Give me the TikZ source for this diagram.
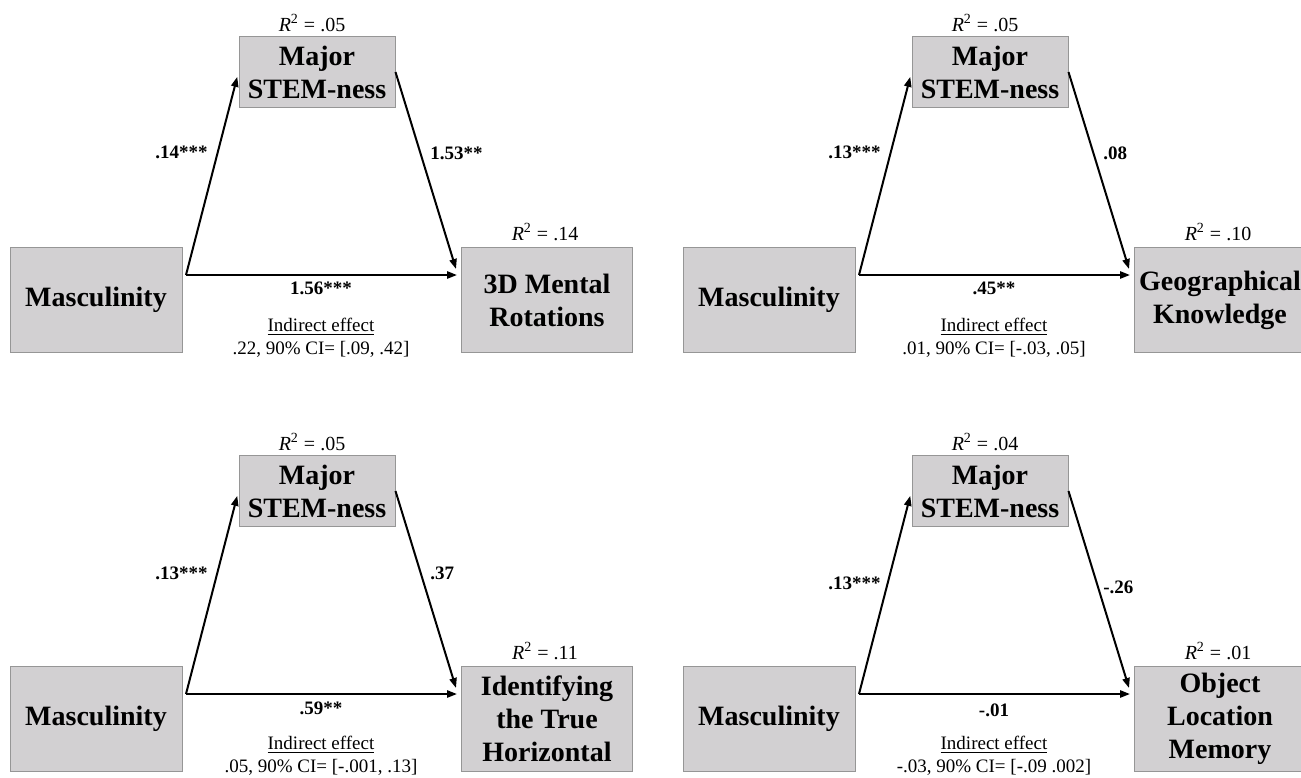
\documentclass[tikz,border=0pt]{standalone}
\usepackage{fontspec}
\setmainfont{Liberation Serif}
\usepackage{tikz}
\usetikzlibrary{arrows.meta,positioning}
\definecolor{boxgray}{RGB}{210,208,210}
\definecolor{linegray}{RGB}{150,150,150}
\tikzset{>={Triangle[length=5pt,width=3.6pt]}}
\tikzset{var/.style={draw=linegray,line width=0.5pt,fill=boxgray,align=center,inner sep=0pt,
    font=\fontsize{14}{16.5}\selectfont\bfseries},
  xbox/.style={var,minimum width=86pt,minimum height=52.5pt},
  mbox/.style={var,minimum width=78pt,minimum height=35.5pt},
  ybox/.style={var,minimum width=85.5pt,minimum height=52.5pt},
  path/.style={->,line width=1pt},
  coef/.style={font=\fontsize{9.5}{11}\selectfont\bfseries,inner sep=0pt},
  rsq/.style={font=\fontsize{10}{12}\selectfont,inner sep=0pt},
  indir/.style={font=\fontsize{9.5}{11.5}\selectfont,align=center,inner sep=0pt}}

\begin{document}
\begin{tikzpicture} [x=0.5pt,y=-0.5pt]
\useasboundingbox [fill=white] (0,0) rectangle (1301,777);

\node [xbox] (masc1) at (96,300) {Masculinity};
\node [mbox] (stem1) at (317,72) {Major\\STEM-ness};
\node [ybox] (out1) at (547,300) {3D Mental\\Rotations};
\coordinate (a1) at (186,275);
\coordinate (b1) at (457,275);
\coordinate (c1) at (456,269);
\draw [path,shorten >=2.5pt] (a1)--(stem1.west);
\draw [path] (stem1.east)--(c1);
\draw [path] (a1)--(b1);
\node [rsq] (r1) at (312,23) {\textit{R}\textsuperscript{2} = .05};
\node [rsq] (q1) at (545,232) {\textit{R}\textsuperscript{2} = .14};
\node [coef,anchor=east] (la1) at (208,152) {.14***};
\node [coef,anchor=west] (lb1) at (430,153) {1.53**};
\node [coef] (lc1) at (321,288) {1.56***};
\node [indir] (ie1) at (321,338) {\underline{Indirect effect}\\.22, 90\% CI= [.09, .42]};

\node [xbox] (masc2) at (769,300) {Masculinity};
\node [mbox] (stem2) at (990,72) {Major\\STEM-ness};
\node [ybox] (out2) at (1220,300) {Geographical\\Knowledge};
\coordinate (a2) at (859,275);
\coordinate (b2) at (1130,275);
\coordinate (c2) at (1129,269);
\draw [path,shorten >=2.5pt] (a2)--(stem2.west);
\draw [path] (stem2.east)--(c2);
\draw [path] (a2)--(b2);
\node [rsq] (r2) at (985,23) {\textit{R}\textsuperscript{2} = .05};
\node [rsq] (q2) at (1218,232) {\textit{R}\textsuperscript{2} = .10};
\node [coef,anchor=east] (la2) at (881,152) {.13***};
\node [coef,anchor=west] (lb2) at (1103,153) {.08};
\node [coef] (lc2) at (994,288) {.45**};
\node [indir] (ie2) at (994,338) {\underline{Indirect effect}\\.01, 90\% CI= [-.03, .05]};

\node [xbox] (masc3) at (96,719) {Masculinity};
\node [mbox] (stem3) at (317,491) {Major\\STEM-ness};
\node [ybox] (out3) at (547,719) {Identifying\\the True\\Horizontal};
\coordinate (a3) at (186,694);
\coordinate (b3) at (457,694);
\coordinate (c3) at (456,688);
\draw [path,shorten >=2.5pt] (a3)--(stem3.west);
\draw [path] (stem3.east)--(c3);
\draw [path] (a3)--(b3);
\node [rsq] (r3) at (312,442) {\textit{R}\textsuperscript{2} = .05};
\node [rsq] (q3) at (545,651) {\textit{R}\textsuperscript{2} = .11};
\node [coef,anchor=east] (la3) at (208,573) {.13***};
\node [coef,anchor=west] (lb3) at (430,573) {.37};
\node [coef] (lc3) at (321,708) {.59**};
\node [indir] (ie3) at (321,756) {\underline{Indirect effect}\\.05, 90\% CI= [-.001, .13]};

\node [xbox] (masc4) at (769,719) {Masculinity};
\node [mbox] (stem4) at (990,491) {Major\\STEM-ness};
\node [ybox] (out4) at (1220,719) {Object\\Location\\Memory};
\coordinate (a4) at (859,694);
\coordinate (b4) at (1130,694);
\coordinate (c4) at (1129,688);
\draw [path,shorten >=2.5pt] (a4)--(stem4.west);
\draw [path] (stem4.east)--(c4);
\draw [path] (a4)--(b4);
\node [rsq] (r4) at (985,442) {\textit{R}\textsuperscript{2} = .04};
\node [rsq] (q4) at (1218,651) {\textit{R}\textsuperscript{2} = .01};
\node [coef,anchor=east] (la4) at (881,583) {.13***};
\node [coef,anchor=west] (lb4) at (1103,587) {-.26};
\node [coef] (lc4) at (994,710) {-.01};
\node [indir] (ie4) at (994,756) {\underline{Indirect effect}\\-.03, 90\% CI= [-.09 .002]};
\end{tikzpicture}
\end{document}
